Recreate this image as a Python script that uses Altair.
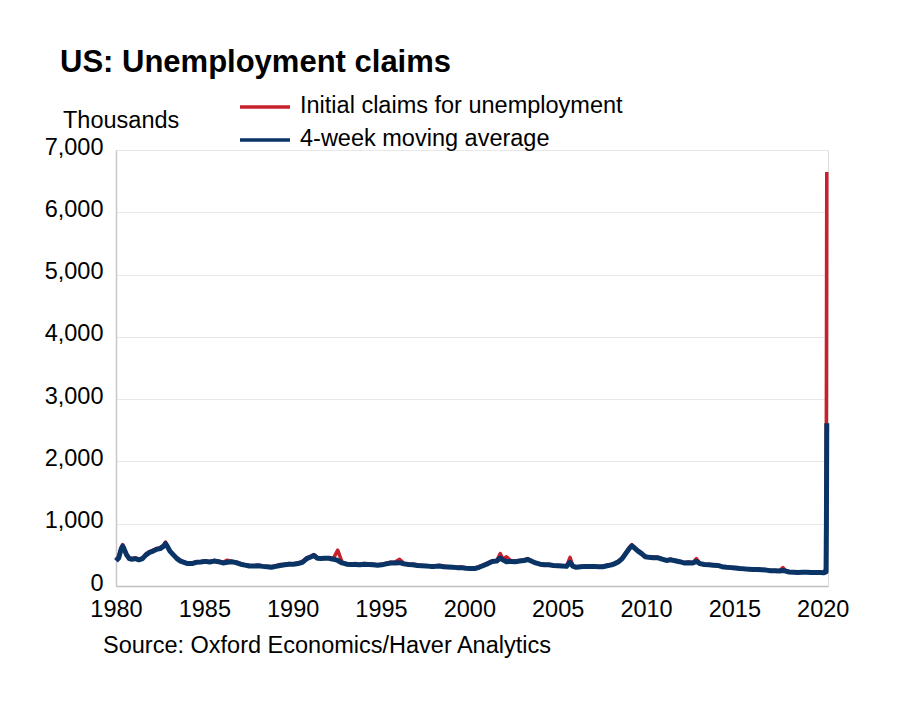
import altair as alt
import pandas as pd

# ---- data (thousands) ----
dates = [
    1980.00, 1980.15, 1980.30, 1980.38, 1980.45, 1980.60, 1980.75, 1980.90,
    1981.10, 1981.30, 1981.50, 1981.70, 1981.90, 1982.10, 1982.30, 1982.50,
    1982.70, 1982.80, 1982.90, 1983.05, 1983.25, 1983.45, 1983.65, 1983.85,
    1984.05, 1984.30, 1984.55, 1984.80, 1985.05, 1985.30, 1985.55, 1985.80,
    1986.05, 1986.30, 1986.55, 1986.80, 1987.05, 1987.30, 1987.55, 1987.80,
    1988.05, 1988.30, 1988.55, 1988.80, 1989.05, 1989.30, 1989.55, 1989.80,
    1990.05, 1990.30, 1990.55, 1990.80, 1991.05, 1991.20, 1991.40, 1991.60,
    1991.80, 1992.05, 1992.30, 1992.55, 1992.80, 1993.05, 1993.30, 1993.55,
    1993.80, 1994.05, 1994.30, 1994.55, 1994.80, 1995.05, 1995.30, 1995.55,
    1995.80, 1996.05, 1996.30, 1996.55, 1996.80, 1997.05, 1997.30, 1997.55,
    1997.80, 1998.05, 1998.30, 1998.55, 1998.80, 1999.05, 1999.30, 1999.55,
    1999.80, 2000.05, 2000.30, 2000.55, 2000.80, 2001.05, 2001.30, 2001.55,
    2001.75, 2001.90, 2002.10, 2002.35, 2002.60, 2002.85, 2003.10, 2003.30,
    2003.50, 2003.75, 2004.00, 2004.25, 2004.50, 2004.75, 2005.00, 2005.25,
    2005.50, 2005.70, 2005.85, 2006.05, 2006.30, 2006.55, 2006.80, 2007.05,
    2007.30, 2007.55, 2007.80, 2008.05, 2008.25, 2008.45, 2008.65, 2008.85,
    2009.05, 2009.20, 2009.35, 2009.55, 2009.75, 2009.95, 2010.15, 2010.40,
    2010.65, 2010.90, 2011.15, 2011.40, 2011.65, 2011.90, 2012.15, 2012.40,
    2012.65, 2012.85, 2013.05, 2013.30, 2013.55, 2013.80, 2014.05, 2014.30,
    2014.55, 2014.80, 2015.05, 2015.30, 2015.55, 2015.80, 2016.05, 2016.30,
    2016.55, 2016.80, 2017.05, 2017.30, 2017.55, 2017.75, 2017.90, 2018.10,
    2018.35, 2018.60, 2018.85, 2019.10, 2019.35, 2019.60, 2019.85, 2020.05,
    2020.19, 2020.21, 2020.23,
]

initial_claims = [
    420, 470, 620, 665, 610, 505, 450, 440,
    450, 425, 450, 515, 550, 575, 600, 615,
    655, 705, 650, 570, 505, 450, 410, 385,
    365, 370, 390, 390, 405, 390, 410, 400,
    380, 415, 395, 385, 360, 340, 330, 325,
    335, 320, 315, 310, 325, 345, 350, 360,
    355, 370, 395, 450, 480, 505, 455, 450,
    455, 450, 440, 575, 380, 360, 350, 360,
    345, 360, 355, 350, 340, 350, 365, 380,
    385, 430, 365, 355, 350, 340, 330, 325,
    320, 325, 330, 320, 310, 305, 300, 305,
    290, 285, 290, 310, 340, 370, 405, 410,
    520, 430, 470, 405, 400, 410, 420, 440,
    405, 375, 355, 345, 345, 335, 330, 325,
    320, 460, 330, 305, 315, 320, 320, 320,
    315, 315, 335, 350, 370, 400, 455, 535,
    615, 665, 620, 570, 530, 480, 470, 465,
    460, 440, 415, 430, 410, 395, 375, 385,
    375, 440, 365, 350, 345, 340, 335, 315,
    305, 300, 295, 285, 280, 275, 270, 270,
    265, 260, 250, 250, 245, 295, 245, 230,
    225, 220, 225, 225, 220, 220, 218, 211,
    282, 3307, 6648,
]

moving_avg = [
    405, 450, 600, 640, 600, 500, 440, 430,
    440, 420, 440, 500, 540, 560, 590, 600,
    640, 680, 640, 560, 500, 440, 400, 380,
    360, 360, 380, 385, 395, 385, 400, 390,
    370, 380, 390, 375, 350, 335, 320, 320,
    325, 315, 310, 300, 315, 330, 340, 350,
    350, 360, 380, 440, 470, 490, 445, 440,
    445, 445, 430, 410, 370, 350, 345, 345,
    340, 350, 345, 340, 335, 340, 355, 370,
    370, 375, 355, 345, 340, 330, 325, 320,
    315, 315, 320, 310, 305, 300, 295, 295,
    285, 280, 280, 300, 330, 360, 395, 400,
    450, 420, 390, 395, 390, 400, 410, 425,
    400, 370, 350, 340, 340, 330, 325, 320,
    315, 380, 320, 300, 310, 315, 315, 315,
    310, 310, 325, 340, 360, 390, 440, 520,
    600, 645, 610, 560, 520, 470, 460, 455,
    455, 430, 410, 420, 405, 390, 370, 375,
    370, 395, 360, 345, 340, 335, 330, 310,
    300, 295, 290, 280, 275, 270, 265, 265,
    260, 255, 245, 245, 240, 250, 240, 225,
    220, 215, 220, 220, 215, 215, 215, 212,
    225, 998, 2612,
]

x_ticks = [1980, 1985, 1990, 1995, 2000, 2005, 2010, 2015, 2020]
y_ticks = [0, 1000, 2000, 3000, 4000, 5000, 6000, 7000]

title_text = "US: Unemployment claims"
unit_text = "Thousands"
legend_labels = ["Initial claims for unemployment", "4-week moving average"]
source_text = "Source: Oxford Economics/Haver Analytics"

RED = "#c8202c"
BLUE = "#0b3466"
FONT = "Liberation Sans"

df = pd.DataFrame({"date": dates, "ic": initial_claims, "ma": moving_avg})

x_enc = alt.X(
    "date:Q",
    scale=alt.Scale(domain=[1980, 2020.3], nice=False, zero=False),
    axis=alt.Axis(
        values=x_ticks, format="d", title=None, grid=False, ticks=False,
        labelFontSize=23.5, labelPadding=11, labelColor="#000000",
        labelFont=FONT, domainColor="#c0c0c0", domainWidth=1.5,
        labelFlush=False, labelOverlap=False,
    ),
)

def y_enc(field):
    return alt.Y(
        f"{field}:Q",
        scale=alt.Scale(domain=[0, 7000], nice=False),
        axis=alt.Axis(
            values=y_ticks, format=",.0f", title=None, ticks=False,
            labelFontSize=23.5, labelPadding=13, labelColor="#000000",
            labelFont=FONT, domainColor="#c8c8c8", domainWidth=1.5,
            labelOffset=-3, labelOverlap=False,
            grid=True, gridColor="#e8e8e8", gridWidth=1,
        ),
    )

base = alt.Chart(df)
red_line = base.mark_line(color=RED, strokeWidth=3.5, strokeJoin="round").encode(
    x=x_enc, y=y_enc("ic"), order="date:Q"
)
blue_line = base.mark_line(color=BLUE, strokeWidth=5, strokeJoin="round").encode(
    x=x_enc, y=y_enc("ma"), order="date:Q"
)


def label(text, x, y, size=23.5, weight="normal"):
    return alt.Chart(pd.DataFrame({"t": [text]})).mark_text(
        align="left", baseline="alphabetic", fontSize=size, fontWeight=weight,
        font=FONT, color="#000000",
    ).encode(text="t:N", x=alt.value(x), y=alt.value(y))


def legend_rule(color, y):
    return alt.Chart(pd.DataFrame({"a": [0]})).mark_rule(
        color=color, strokeWidth=3.5
    ).encode(x=alt.value(124), x2=alt.value(174), y=alt.value(y))


chart = alt.layer(
    red_line,
    blue_line,
    label(title_text, -56, -78, size=31, weight="bold"),
    label(unit_text, -53, -22),
    legend_rule(RED, -43),
    legend_rule(BLUE, -10),
    label(legend_labels[0], 184, -37),
    label(legend_labels[1], 184, -4),
    label(source_text, -13, 503),
).properties(
    width=712,
    height=436,
    padding={"left": 108, "top": 142, "right": 50, "bottom": 100},
    autosize=alt.AutoSizeParams(type="none"),
).configure_view(stroke=None).configure(background="white")

chart.save("out.html", embed_options={"renderer": "svg", "actions": False})
